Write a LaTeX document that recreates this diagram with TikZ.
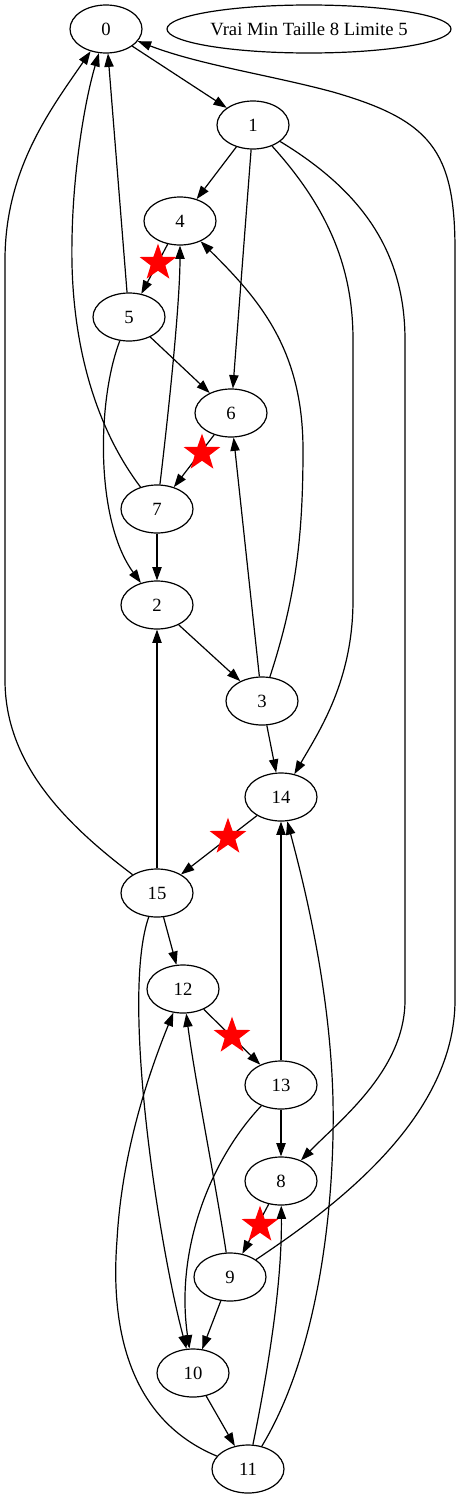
\documentclass[tikz,border=0pt]{standalone}
\usepackage{fontspec}
\setmainfont{Liberation Serif}
\usetikzlibrary{shapes.geometric,arrows.meta}
\begin{document}
\begin{tikzpicture}[x=0.75pt,y=-0.75pt,
  vtx/.style={draw,ellipse,line width=0.9pt,minimum width=54pt,minimum height=36pt,inner sep=0pt,font=\fontsize{14pt}{16pt}\selectfont},
  edge/.style={line width=0.9pt,-{Triangle[length=10pt,width=7pt]}},
  starmark/.style={star,star points=5,star point ratio=2.5,fill=red,draw=none,minimum size=29pt,inner sep=0pt}]
\useasboundingbox (0,0) rectangle (461,1499);
% nodes
\node[vtx] (n0) at (106,29) {0};
\node[vtx,minimum width=213pt] (title) at (309,29) {Vrai Min Taille 8 Limite 5};
\node[vtx] (n1) at (253,125) {1};
\node[vtx] (n4) at (180,221) {4};
\node[vtx] (n5) at (129,317) {5};
\node[vtx] (n6) at (231,413) {6};
\node[vtx] (n7) at (157,509) {7};
\node[vtx] (n2) at (157,605) {2};
\node[vtx] (n3) at (262,701) {3};
\node[vtx] (n14) at (281,797) {14};
\node[vtx] (n15) at (157,893) {15};
\node[vtx] (n12) at (183,989) {12};
\node[vtx] (n13) at (281,1085) {13};
\node[vtx] (n8) at (281,1181) {8};
\node[vtx] (n9) at (230,1277) {9};
\node[vtx] (n10) at (193,1373) {10};
\node[vtx] (n11) at (248,1469) {11};
% edges
\draw[edge] (n0) -- (n1);
\draw[edge] (n1) -- (n4);
\draw[edge] (n1) -- (n6);
\draw[edge] (n1) .. controls (330,210) and (353,270) .. (353,340) -- (353,600) .. controls (353,680) and (320,730) .. (n14);
\draw[edge] (n1) .. controls (360,190) and (405,250) .. (405,340) -- (405,1000) .. controls (405,1070) and (340,1120) .. (n8);
\draw[edge] (n4) -- (n5);
\draw[edge] (n5) -- (n0);
\draw[edge] (n5) -- (n6);
\draw[edge] (n5) .. controls (97,400) and (95,520) .. (n2);
\draw[edge] (n6) -- (n7);
\draw[edge] (n7) .. controls (90,420) and (70,330) .. (72,240) .. controls (73,170) and (85,100) .. (n0);
\draw[edge] (n7) .. controls (170,400) and (180,300) .. (n4);
\draw[edge] (n7) -- (n2);
\draw[edge] (n2) -- (n3);
\draw[edge] (n3) .. controls (295,600) and (303,540) .. (303,450) .. controls (303,350) and (260,300) .. (n4);
\draw[edge] (n3) -- (n6);
\draw[edge] (n3) -- (n14);
\draw[edge] (n14) -- (n15);
\draw[edge] (n15) .. controls (60,820) and (5,760) .. (5,680) -- (5,260) .. controls (5,170) and (50,110) .. (n0);
\draw[edge] (n15) -- (n2);
\draw[edge] (n15) -- (n12);
\draw[edge] (n15) .. controls (120,1000) and (160,1250) .. (n10);
\draw[edge] (n12) -- (n13);
\draw[edge] (n13) -- (n14);
\draw[edge] (n13) -- (n8);
\draw[edge] (n13) .. controls (210,1160) and (175,1250) .. (n10);
\draw[edge] (n8) -- (n9);
\draw[edge] (n9) .. controls (330,1210) and (455,1120) .. (455,1000) -- (455,250) .. controls (455,150) and (430,120) .. (333,92) .. controls (270,75) and (200,65) .. (n0);
\draw[edge] (n9) .. controls (215,1180) and (195,1080) .. (n12);
\draw[edge] (n9) -- (n10);
\draw[edge] (n10) -- (n11);
\draw[edge] (n11) .. controls (130,1420) and (110,1330) .. (117,1240) .. controls (122,1150) and (150,1070) .. (n12);
\draw[edge] (n11) .. controls (270,1360) and (282,1280) .. (n8);
\draw[edge] (n11) .. controls (320,1350) and (335,1200) .. (333,1100) .. controls (330,980) and (300,870) .. (n14);
% stars
\node[starmark] (s45) at (158,263) {};
\node[starmark] (s67) at (202,453) {};
\node[starmark] (s1415) at (228,837) {};
\node[starmark] (s1213) at (232,1036) {};
\node[starmark] (s89) at (260,1225) {};
\end{tikzpicture}
\end{document}
